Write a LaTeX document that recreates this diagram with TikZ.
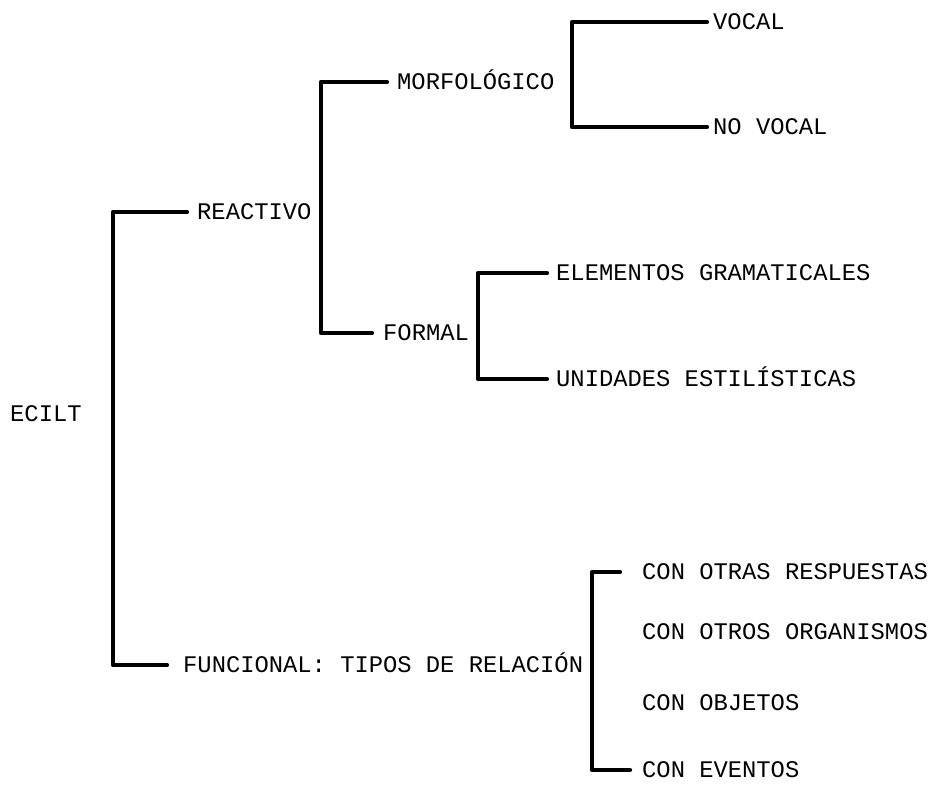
\documentclass[tikz,border=0pt]{standalone}
\usepackage{fontspec}
\newfontfamily\typew{Liberation Mono}
\usepackage{tikz}

\begin{document}
\begin{tikzpicture}[x=1pt,y=-1pt,
    lbl/.style={anchor=west, inner sep=0pt, text height=15.7pt, text depth=0pt,
        font=\typew\fontsize{23.8}{28}\selectfont},
    brk/.style={black, line width=4.2pt, line cap=round, line join=round}]
    \useasboundingbox (0,0) rectangle (933,786);
    \node [lbl] (ecilt) at (10,414) {ECILT};
    \node [lbl] (reactivo) at (197,212) {REACTIVO};
    \node [lbl] (funcional) at (183,665) {FUNCIONAL: TIPOS DE RELACIÓN};
    \node [lbl] (morfo) at (397,82) {MORFOLÓGICO};
    \node [lbl] (formal) at (383,333) {FORMAL};
    \node [lbl] (vocal) at (713,22) {VOCAL};
    \node [lbl] (novocal) at (713,127) {NO VOCAL};
    \node [lbl] (elem) at (556,273) {ELEMENTOS GRAMATICALES};
    \node [lbl] (unid) at (556,379) {UNIDADES ESTILÍSTICAS};
    \node [lbl] (resp) at (642,572) {CON OTRAS RESPUESTAS};
    \node [lbl] (org) at (642,632) {CON OTROS ORGANISMOS};
    \node [lbl] (obj) at (642,703) {CON OBJETOS};
    \node [lbl] (even) at (642,770) {CON EVENTOS};
    \coordinate (s0) at (113,440);
    \coordinate (s1) at (321,200);
    \coordinate (s2) at (572,75);
    \coordinate (s3) at (478,325);
    \coordinate (s4) at (592,670);
    \draw [brk] ([xshift=-10pt]reactivo.west) -| (s0) |- ([xshift=-16pt]funcional.west);
    \draw [brk] ([xshift=-10pt]morfo.west) -| (s1) |- ([xshift=-11pt]formal.west);
    \draw [brk] ([xshift=-6pt]vocal.west) -| (s2) |- ([xshift=-6pt]novocal.west);
    \draw [brk] ([xshift=-9pt]elem.west) -| (s3) |- ([xshift=-9pt]unid.west);
    \draw [brk] ([xshift=-22pt]resp.west) -| (s4) |- ([xshift=-12pt]even.west);
\end{tikzpicture}
\end{document}
